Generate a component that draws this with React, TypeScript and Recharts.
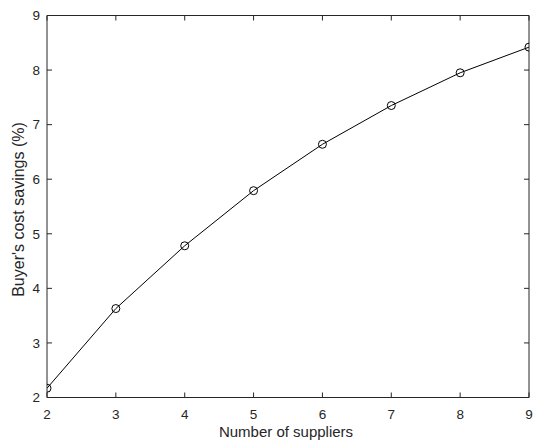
import React from 'react';
import { LineChart, Line, XAxis, YAxis, Label } from 'recharts';

const suppliers = [2, 3, 4, 5, 6, 7, 8, 9];
const savings = [2.17, 3.63, 4.78, 5.79, 6.64, 7.35, 7.95, 8.42];
const xTicks = [2, 3, 4, 5, 6, 7, 8, 9];
const yTicks = [2, 3, 4, 5, 6, 7, 8, 9];

const data = suppliers.map((x, i) => ({ x, y: savings[i] }));

const FONT = '"Liberation Sans", Arial, Helvetica, sans-serif';
const AXIS = '#262626';
const TICK = 5;

const bottomTick = (props: any) => {
  const { x, y, payload } = props;
  return (
    <g>
      <line x1={x} y1={y} x2={x} y2={y - TICK} stroke={AXIS} strokeWidth={1} />
      <text x={x} y={y + 16.5} dy="0.35em" textAnchor="middle" fontSize={13.5} fontFamily={FONT} fill={AXIS}>
        {payload.value}
      </text>
    </g>
  );
};

const leftTick = (props: any) => {
  const { x, y, payload } = props;
  return (
    <g>
      <line x1={x} y1={y} x2={x + TICK} y2={y} stroke={AXIS} strokeWidth={1} />
      <text x={x - 7} y={y} dy="0.35em" textAnchor="end" fontSize={13.5} fontFamily={FONT} fill={AXIS}>
        {payload.value}
      </text>
    </g>
  );
};

const topTick = (props: any) => {
  const { x, y } = props;
  return <line x1={x} y1={y} x2={x} y2={y + TICK} stroke={AXIS} strokeWidth={1} />;
};

const rightTick = (props: any) => {
  const { x, y } = props;
  return <line x1={x} y1={y} x2={x - TICK} y2={y} stroke={AXIS} strokeWidth={1} />;
};

const xTitle = (props: any) => {
  const vb = props.viewBox;
  return (
    <text x={vb.x + vb.width / 2 - 2} y={436.5} textAnchor="middle" fontSize={15} fontFamily={FONT} fill={AXIS}>
      Number of suppliers
    </text>
  );
};

const yTitle = (props: any) => {
  const vb = props.viewBox;
  const cx = 23.5;
  const cy = vb.y + vb.height / 2 + 3;
  return (
    <text x={cx} y={cy} transform={`rotate(-90, ${cx}, ${cy})`} textAnchor="middle" fontSize={16} fontFamily={FONT} fill={AXIS}>
      Buyer's cost savings (%)
    </text>
  );
};

export default function App() {
  return (
    <div style={{ position: 'absolute', left: 0, top: 0, width: 534, height: 445, background: '#fff' }}>
      <LineChart width={534} height={445} data={data} margin={{ top: 14.5, right: 4, bottom: 0, left: 0 }}>
        <XAxis
          dataKey="x"
          type="number"
          domain={[2, 9]}
          ticks={xTicks}
          allowDataOverflow
          height={47.5}
          tickSize={0}
          tickMargin={0}
          tickLine={false}
          tick={bottomTick}
          axisLine={{ stroke: AXIS }}
        >
          <Label content={xTitle} />
        </XAxis>
        <XAxis
          xAxisId="top"
          dataKey="x"
          type="number"
          orientation="top"
          domain={[2, 9]}
          ticks={xTicks}
          allowDataOverflow
          height={1}
          tickSize={0}
          tickMargin={0}
          tickLine={false}
          tick={topTick}
          axisLine={{ stroke: AXIS }}
        />
        <YAxis
          dataKey="y"
          type="number"
          domain={[2, 9]}
          ticks={yTicks}
          allowDataOverflow
          width={47}
          tickSize={0}
          tickMargin={0}
          tickLine={false}
          tick={leftTick}
          axisLine={{ stroke: AXIS }}
        >
          <Label content={yTitle} />
        </YAxis>
        <YAxis
          yAxisId="right"
          dataKey="y"
          type="number"
          orientation="right"
          domain={[2, 9]}
          ticks={yTicks}
          allowDataOverflow
          width={1}
          tickSize={0}
          tickMargin={0}
          tickLine={false}
          tick={rightTick}
          axisLine={{ stroke: AXIS }}
        />
        <Line
          dataKey="y"
          type="linear"
          stroke="#000"
          strokeWidth={1}
          dot={{ r: 4, stroke: '#000', strokeWidth: 1, fill: 'none' }}
          isAnimationActive={false}
        />
      </LineChart>
    </div>
  );
}
